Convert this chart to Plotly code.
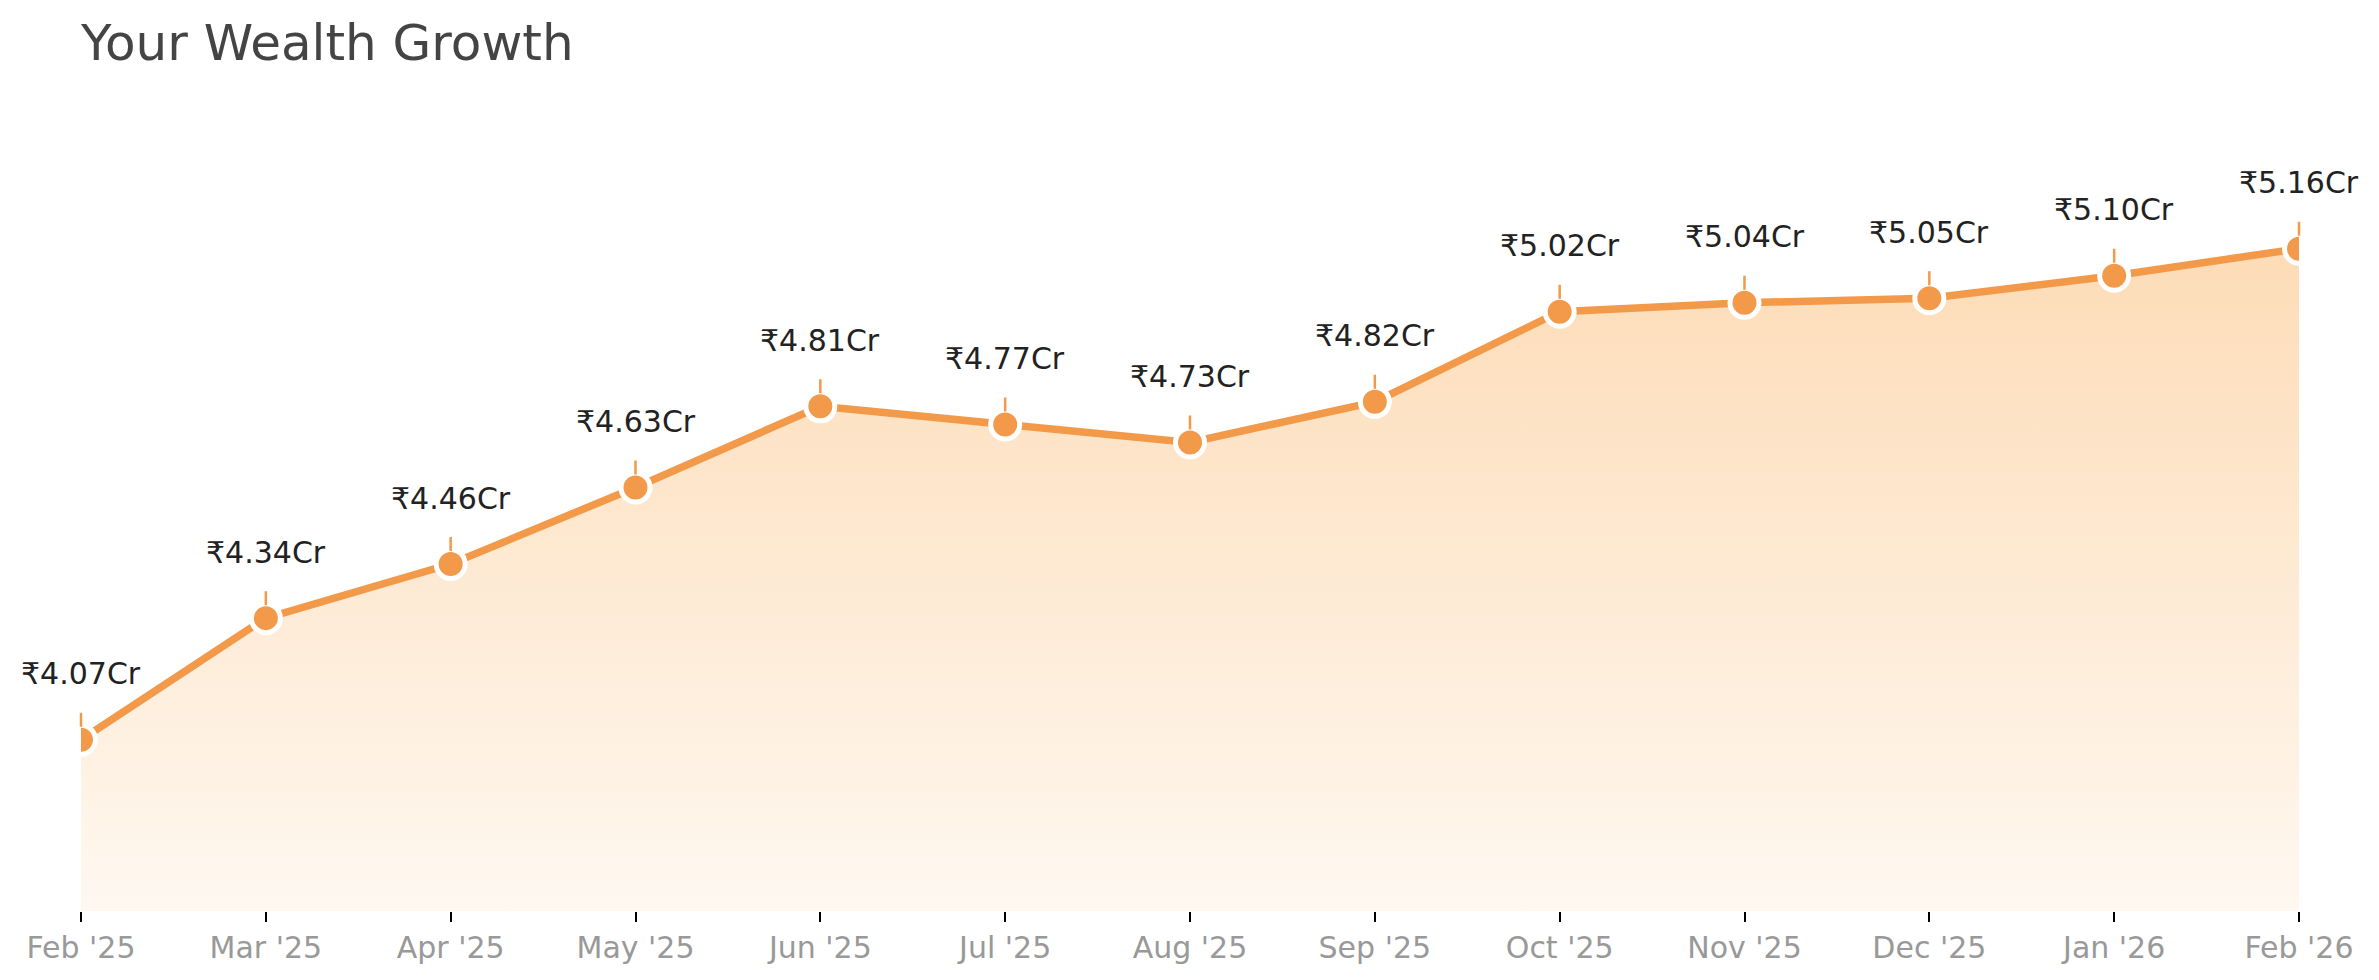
import plotly.graph_objects as go

# monthly portfolio value, in crore
months = ["Feb '25", "Mar '25", "Apr '25", "May '25", "Jun '25", "Jul '25", "Aug '25",
          "Sep '25", "Oct '25", "Nov '25", "Dec '25", "Jan '26", "Feb '26"]
values = [4.07, 4.34, 4.46, 4.63, 4.81, 4.77, 4.73, 4.82, 5.02, 5.04, 5.05, 5.10, 5.16]
labels = [f"₹{v:.2f}Cr" for v in values]

ORANGE = "#F2994A"
FONT = "DejaVu Sans"
y_min, y_max = 3.69, 5.45

# page body has an 8px margin, so the figure is drawn 8px smaller
W, H = 2371, 972

fig = go.Figure()

fig.add_trace(go.Scatter(
    x=months, y=values,
    mode="lines+markers",
    line=dict(color=ORANGE, width=7.5),
    marker=dict(size=29, color=ORANGE, line=dict(color="white", width=5)),
    fill="tozeroy",
    fillgradient=dict(
        type="vertical",
        start=y_min, stop=max(values),
        colorscale=[[0, "rgba(253,220,183,0.2)"], [1, "rgba(253,220,183,1)"]],
    ),
    hoverinfo="skip",
    showlegend=False,
))

# value labels with a short stick down to each point
for m, v, t in zip(months, values, labels):
    fig.add_annotation(
        x=m, y=v, text=t,
        showarrow=True, arrowhead=0, arrowwidth=2.5, arrowcolor=ORANGE,
        ax=0, ay=-66, standoff=13, startstandoff=20,
        font=dict(family=FONT, size=30, color="#222222"),
    )

fig.update_layout(
    width=W, height=H,
    margin=dict(l=73, r=80, t=110, b=69),
    paper_bgcolor="white", plot_bgcolor="white",
    title=dict(
        text="Your Wealth Growth",
        font=dict(family=FONT, size=50, color="#444444"),
        x=73 / W, xanchor="left", xref="container",
        y=1 - 34 / H, yanchor="middle", yref="container",
    ),
    xaxis=dict(
        type="category", range=[0, len(months) - 1],
        showgrid=False, zeroline=False, showline=False,
        ticks="outside", ticklen=10, tickwidth=2, tickcolor="black",
        tickfont=dict(family=FONT, size=30, color="#999999"),
    ),
    yaxis=dict(range=[y_min, y_max], visible=False, showgrid=False, zeroline=False),
)

fig.write_html("out.html")
